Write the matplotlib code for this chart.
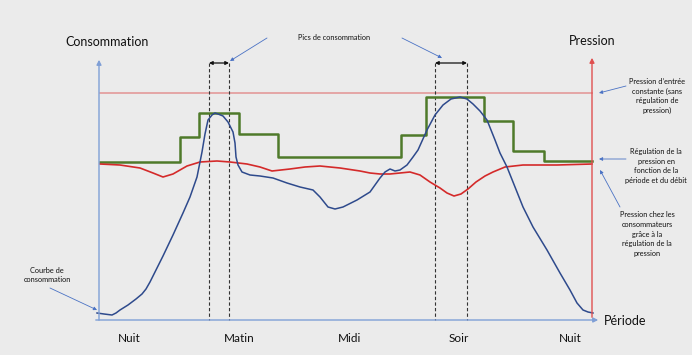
import matplotlib.pyplot as plt

plt.rcParams['font.family'] = ['Lato', 'DejaVu Sans']

# schematic coordinates (pixel frame of the original drawing, y downward)
periode_labels = ['Nuit', 'Matin', 'Midi', 'Soir', 'Nuit']
periode_x = [129, 239, 350, 459, 570]

# consommation (bleu)
conso_x = [97, 104, 112, 116, 120, 128, 136, 142, 146, 150, 155, 163, 173, 183, 190, 197, 202, 205,
           208, 212, 215, 218, 223, 228, 233, 235, 236, 238, 242, 250, 260, 273, 287, 300, 313,
           320, 328, 335, 343, 357, 370, 380, 385, 390, 395, 400, 407, 413, 418, 427, 435, 443,
           451, 460, 467, 473, 480, 487, 495, 500, 507, 515, 523, 533, 547, 560, 570, 577, 583,
           588, 593]
conso_y = [313, 314, 315, 313, 310, 305, 299, 294, 289, 282, 272, 256, 235, 213, 197, 177, 152, 134,
           120, 115, 113, 114, 116, 122, 132, 143, 157, 165, 172, 175, 176, 178, 183, 187, 190,
           197, 207, 209, 207, 200, 192, 178, 172, 169, 171, 170, 165, 157, 150, 130, 115, 105,
           99, 97, 99, 104, 111, 120, 140, 153, 167, 187, 207, 227, 250, 273, 290, 303, 310,
           312, 313]

# pression chez les consommateurs (rouge)
press_x = [100, 120, 140, 153, 163, 173, 187, 200, 217, 230, 247, 260, 272, 290, 305, 320, 340, 360,
           370, 380, 390, 400, 410, 420, 430, 440, 447, 454, 461, 468, 476, 485, 493, 505, 523,
           557, 592]
press_y = [164, 165, 168, 173, 177, 174, 166, 162, 161, 162, 164, 167, 171, 169, 167, 166, 168, 171,
           173, 174, 174, 173, 172, 175, 182, 188, 193, 196, 194, 189, 182, 176, 172, 167, 165,
           165, 164]

# regulation de pression (vert, en escalier)
regul_x = [100, 180, 199, 239, 278, 401, 426, 484, 513, 544, 592]
regul_y = [162, 137, 113, 134, 157, 135, 97, 121, 151, 161, 161]

pression_constante_y = 93
pics_x = [(209, 229), (435, 467)]

bg = '#ebebeb'
fig = plt.figure(figsize=(6.92, 3.55), dpi=100)
fig.patch.set_facecolor(bg)
ax = fig.add_axes([0, 0, 1, 1])
ax.set_facecolor(bg)
ax.set_xlim(0, 692)
ax.set_ylim(355, 0)
ax.axis('off')

axis_blue = '#7f9fd6'
arr_blue = '#4a72c4'

# axes
ax.annotate('', xy=(99, 57), xytext=(99, 323),
            arrowprops=dict(arrowstyle='-|>', color=axis_blue, lw=1.0, mutation_scale=7))
ax.annotate('', xy=(601, 320), xytext=(93, 320),
            arrowprops=dict(arrowstyle='-|>', color=axis_blue, lw=1.0, mutation_scale=7))
ax.annotate('', xy=(592, 55), xytext=(592, 320),
            arrowprops=dict(arrowstyle='-|>', color='#e05050', lw=1.0, mutation_scale=7))

ax.text(65, 42, 'Consommation', fontsize=9, va='center', ha='left', color='#111111')
ax.text(592, 41, 'Pression', fontsize=9, va='center', ha='center', color='#111111')
ax.text(604, 321, 'Période', fontsize=9, va='center', ha='left', color='#111111')
for lab, xp in zip(periode_labels, periode_x):
    ax.text(xp, 338, lab, fontsize=8.5, va='center', ha='center', color='#111111')

# pression constante
ax.plot([100, 592], [pression_constante_y] * 2, color='#e39a9a', lw=1.2)

# pics de consommation
for x0, x1 in pics_x:
    for xv in (x0, x1):
        ax.plot([xv, xv], [63, 320], color='#333333', lw=0.8, ls=(0, (3, 2)))
    ax.annotate('', xy=(x0, 63), xytext=(x1, 63),
                arrowprops=dict(arrowstyle='<|-|>', color='#111111', lw=0.9, mutation_scale=5,
                                shrinkA=0, shrinkB=0))

ax.step(regul_x, regul_y, where='post', color='#4f7a2a', lw=1.8)
ax.plot(press_x, press_y, color='#d42a2a', lw=1.2, solid_joinstyle='round')
ax.plot(conso_x, conso_y, color='#2e4a8c', lw=1.1, solid_joinstyle='round')

# annotations
small = dict(fontsize=5.3, ha='center', va='center', color='#111111', linespacing=1.45)
arrow_kw = dict(arrowstyle='-|>', color=arr_blue, lw=0.6, mutation_scale=5, shrinkA=0, shrinkB=0)

ax.text(334, 38, 'Pics de consommation', **small)
ax.annotate('', xy=(230, 61), xytext=(267, 38), arrowprops=arrow_kw)
ax.annotate('', xy=(442, 58), xytext=(402, 38), arrowprops=arrow_kw)

ax.text(657, 96, "Pression d’entrée\nconstante (sans\nrégulation de\npression)", **small)
ax.annotate('', xy=(599, 93), xytext=(626, 86), arrowprops=arrow_kw)

ax.text(656, 166, 'Régulation de la\npression en\nfonction de la\npériode et du débit', **small)
ax.annotate('', xy=(599, 159), xytext=(626, 159), arrowprops=arrow_kw)

ax.text(647, 234, 'Pression chez les\nconsommateurs\ngrâce à la\nrégulation de la\npression', **small)
ax.annotate('', xy=(600, 170), xytext=(620, 207), arrowprops=arrow_kw)

ax.text(47, 275, 'Courbe de\nconsommation', **small)
ax.annotate('', xy=(97, 310), xytext=(50, 288), arrowprops=arrow_kw)

fig.savefig('out.png', dpi=100, facecolor=bg)
